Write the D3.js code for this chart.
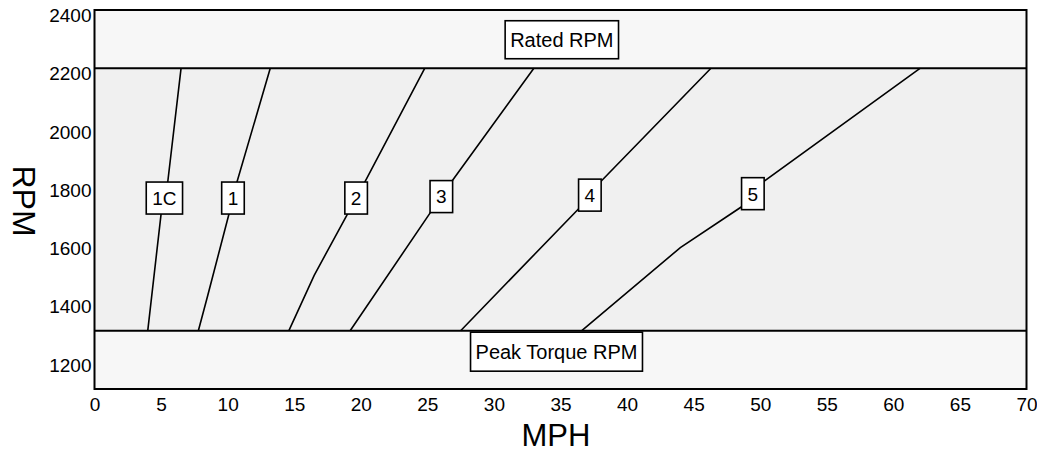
<!DOCTYPE html>
<html>
<head>
<meta charset="utf-8">
<script src="https://cdn.jsdelivr.net/npm/d3@7"></script>
<style>
  body { margin: 0; background: #fff; }
  svg { display: block; font-family: "Liberation Sans", Arial, sans-serif; }
</style>
</head>
<body>
<svg width="1037" height="455"></svg>
<script>
// axis ticks
const xTicks = [0, 5, 10, 15, 20, 25, 30, 35, 40, 45, 50, 55, 60, 65, 70];
const yTicks = [1200, 1400, 1600, 1800, 2000, 2200, 2400];

// shift band limits
const ratedRpm = 2200;
const peakRpm = 1300;

// gear lines: [mph, rpm]
const gearNames = ["1C", "1", "2", "3", "4", "5"];
const gear1C = [[4.0, 1300], [5.0, 1700], [5.5, 1810], [6.5, 2200]];
const gear1 = [[7.8, 1300], [8.5, 1420], [10.1, 1700], [10.7, 1810], [13.2, 2200]];
const gear2 = [[14.6, 1300], [16.5, 1490], [19.0, 1700], [20.3, 1810], [24.8, 2200]];
const gear3 = [[19.2, 1300], [25.3, 1710], [26.8, 1810], [33.0, 2200]];
const gear4 = [[27.5, 1300], [36.4, 1720], [38.1, 1815], [46.3, 2200]];
const gear5 = [[36.6, 1300], [44.0, 1585], [48.6, 1725], [50.2, 1810], [62.0, 2200]];
const gearLines = [gear1C, gear1, gear2, gear3, gear4, gear5];
// rpm where each gear label sits on its line
const labelRpm = [1755, 1755, 1755, 1760, 1765, 1770];

const svg = d3.select("svg");

let x = d3.scaleLinear().domain([0, 70]).range([94.5, 1026.5]);
let y = d3.scaleLinear().domain([1100, 2400]).range([389, 10]);

// background bands (scan tone)
svg.append("rect")
    .attr("x", x(0)).attr("y", y(2400))
    .attr("width", x(70) - x(0)).attr("height", y(ratedRpm) - y(2400))
    .attr("fill", "#f7f7f7");
svg.append("rect")
    .attr("x", x(0)).attr("y", y(ratedRpm))
    .attr("width", x(70) - x(0)).attr("height", y(peakRpm) - y(ratedRpm))
    .attr("fill", "#f0f0f0");
svg.append("rect")
    .attr("x", x(0)).attr("y", y(peakRpm))
    .attr("width", x(70) - x(0)).attr("height", y(1100) - y(peakRpm))
    .attr("fill", "#f7f7f7");

// gear lines
const line = d3.line()
    .x(function (d) { return x(d[0]) })
    .y(function (d) { return y(d[1]) });

svg.selectAll(".gear")
    .data(gearLines)
    .enter()
    .append("path")
    .attr("class", "gear")
    .attr("d", line)
    .attr("fill", "none")
    .attr("stroke", "#000")
    .attr("stroke-width", 1.6);

// band lines
[ratedRpm, peakRpm].forEach(function (r) {
    svg.append("line")
        .attr("x1", x(0)).attr("x2", x(70))
        .attr("y1", y(r)).attr("y2", y(r))
        .attr("stroke", "#000").attr("stroke-width", 2);
});

// frame
svg.append("rect")
    .attr("x", x(0)).attr("y", y(2400))
    .attr("width", x(70) - x(0)).attr("height", y(1100) - y(2400))
    .attr("fill", "none").attr("stroke", "#000").attr("stroke-width", 2);

// x position of a gear line at a given rpm
function mphAt(pts, r) {
    for (let i = 1; i < pts.length; i++) {
        if (r <= pts[i][1]) {
            const t = (r - pts[i - 1][1]) / (pts[i][1] - pts[i - 1][1]);
            return pts[i - 1][0] + t * (pts[i][0] - pts[i - 1][0]);
        }
    }
    return pts[pts.length - 1][0];
}

// boxed label helper
function boxLabel(cx, cy, label, size, h, padX) {
    const g = svg.append("g").attr("transform", "translate(" + cx + "," + cy + ")");
    const rect = g.append("rect").attr("fill", "#fff").attr("stroke", "#000").attr("stroke-width", 1.6);
    const t = g.append("text")
        .attr("text-anchor", "middle")
        .attr("dy", "0.36em")
        .attr("font-size", size)
        .attr("fill", "#000")
        .text(label);
    const w = t.node().getComputedTextLength() + padX * 2;
    rect.attr("x", -w / 2).attr("y", -h / 2).attr("width", w).attr("height", h);
}

gearNames.forEach(function (name, i) {
    const m = mphAt(gearLines[i], labelRpm[i]);
    boxLabel(x(m), y(labelRpm[i]), name, 19, 32, 6);
});

boxLabel(x(35.1), y(2298), "Rated RPM", 20, 38, 5);
boxLabel(x(34.7), y(1228), "Peak Torque RPM", 20, 39, 5);

// axes
const xAxis = svg.append("g")
    .attr("transform", "translate(0," + y(1100) + ")")
    .call(d3.axisBottom(x).tickValues(xTicks).tickSize(0).tickPadding(9));
xAxis.select(".domain").remove();
xAxis.selectAll("text")
    .attr("font-size", 19)
    .attr("font-family", "Liberation Sans, Arial, sans-serif")
    .attr("fill", "#000");

const yAxis = svg.append("g")
    .attr("transform", "translate(" + x(0) + ",0)")
    .call(d3.axisLeft(y).tickValues(yTicks).tickFormat(d3.format("d")).tickSize(0).tickPadding(3));
yAxis.select(".domain").remove();
yAxis.selectAll("text")
    .attr("font-size", 19)
    .attr("font-family", "Liberation Sans, Arial, sans-serif")
    .attr("dy", "0.6em")
    .attr("fill", "#000");

// axis titles
svg.append("text")
    .attr("x", 556)
    .attr("y", 446)
    .attr("text-anchor", "middle")
    .attr("font-size", 31)
    .text("MPH");

svg.append("text")
    .attr("transform", "translate(13,201) rotate(90)")
    .attr("text-anchor", "middle")
    .attr("font-size", 32)
    .text("RPM");
</script>
</body>
</html>
